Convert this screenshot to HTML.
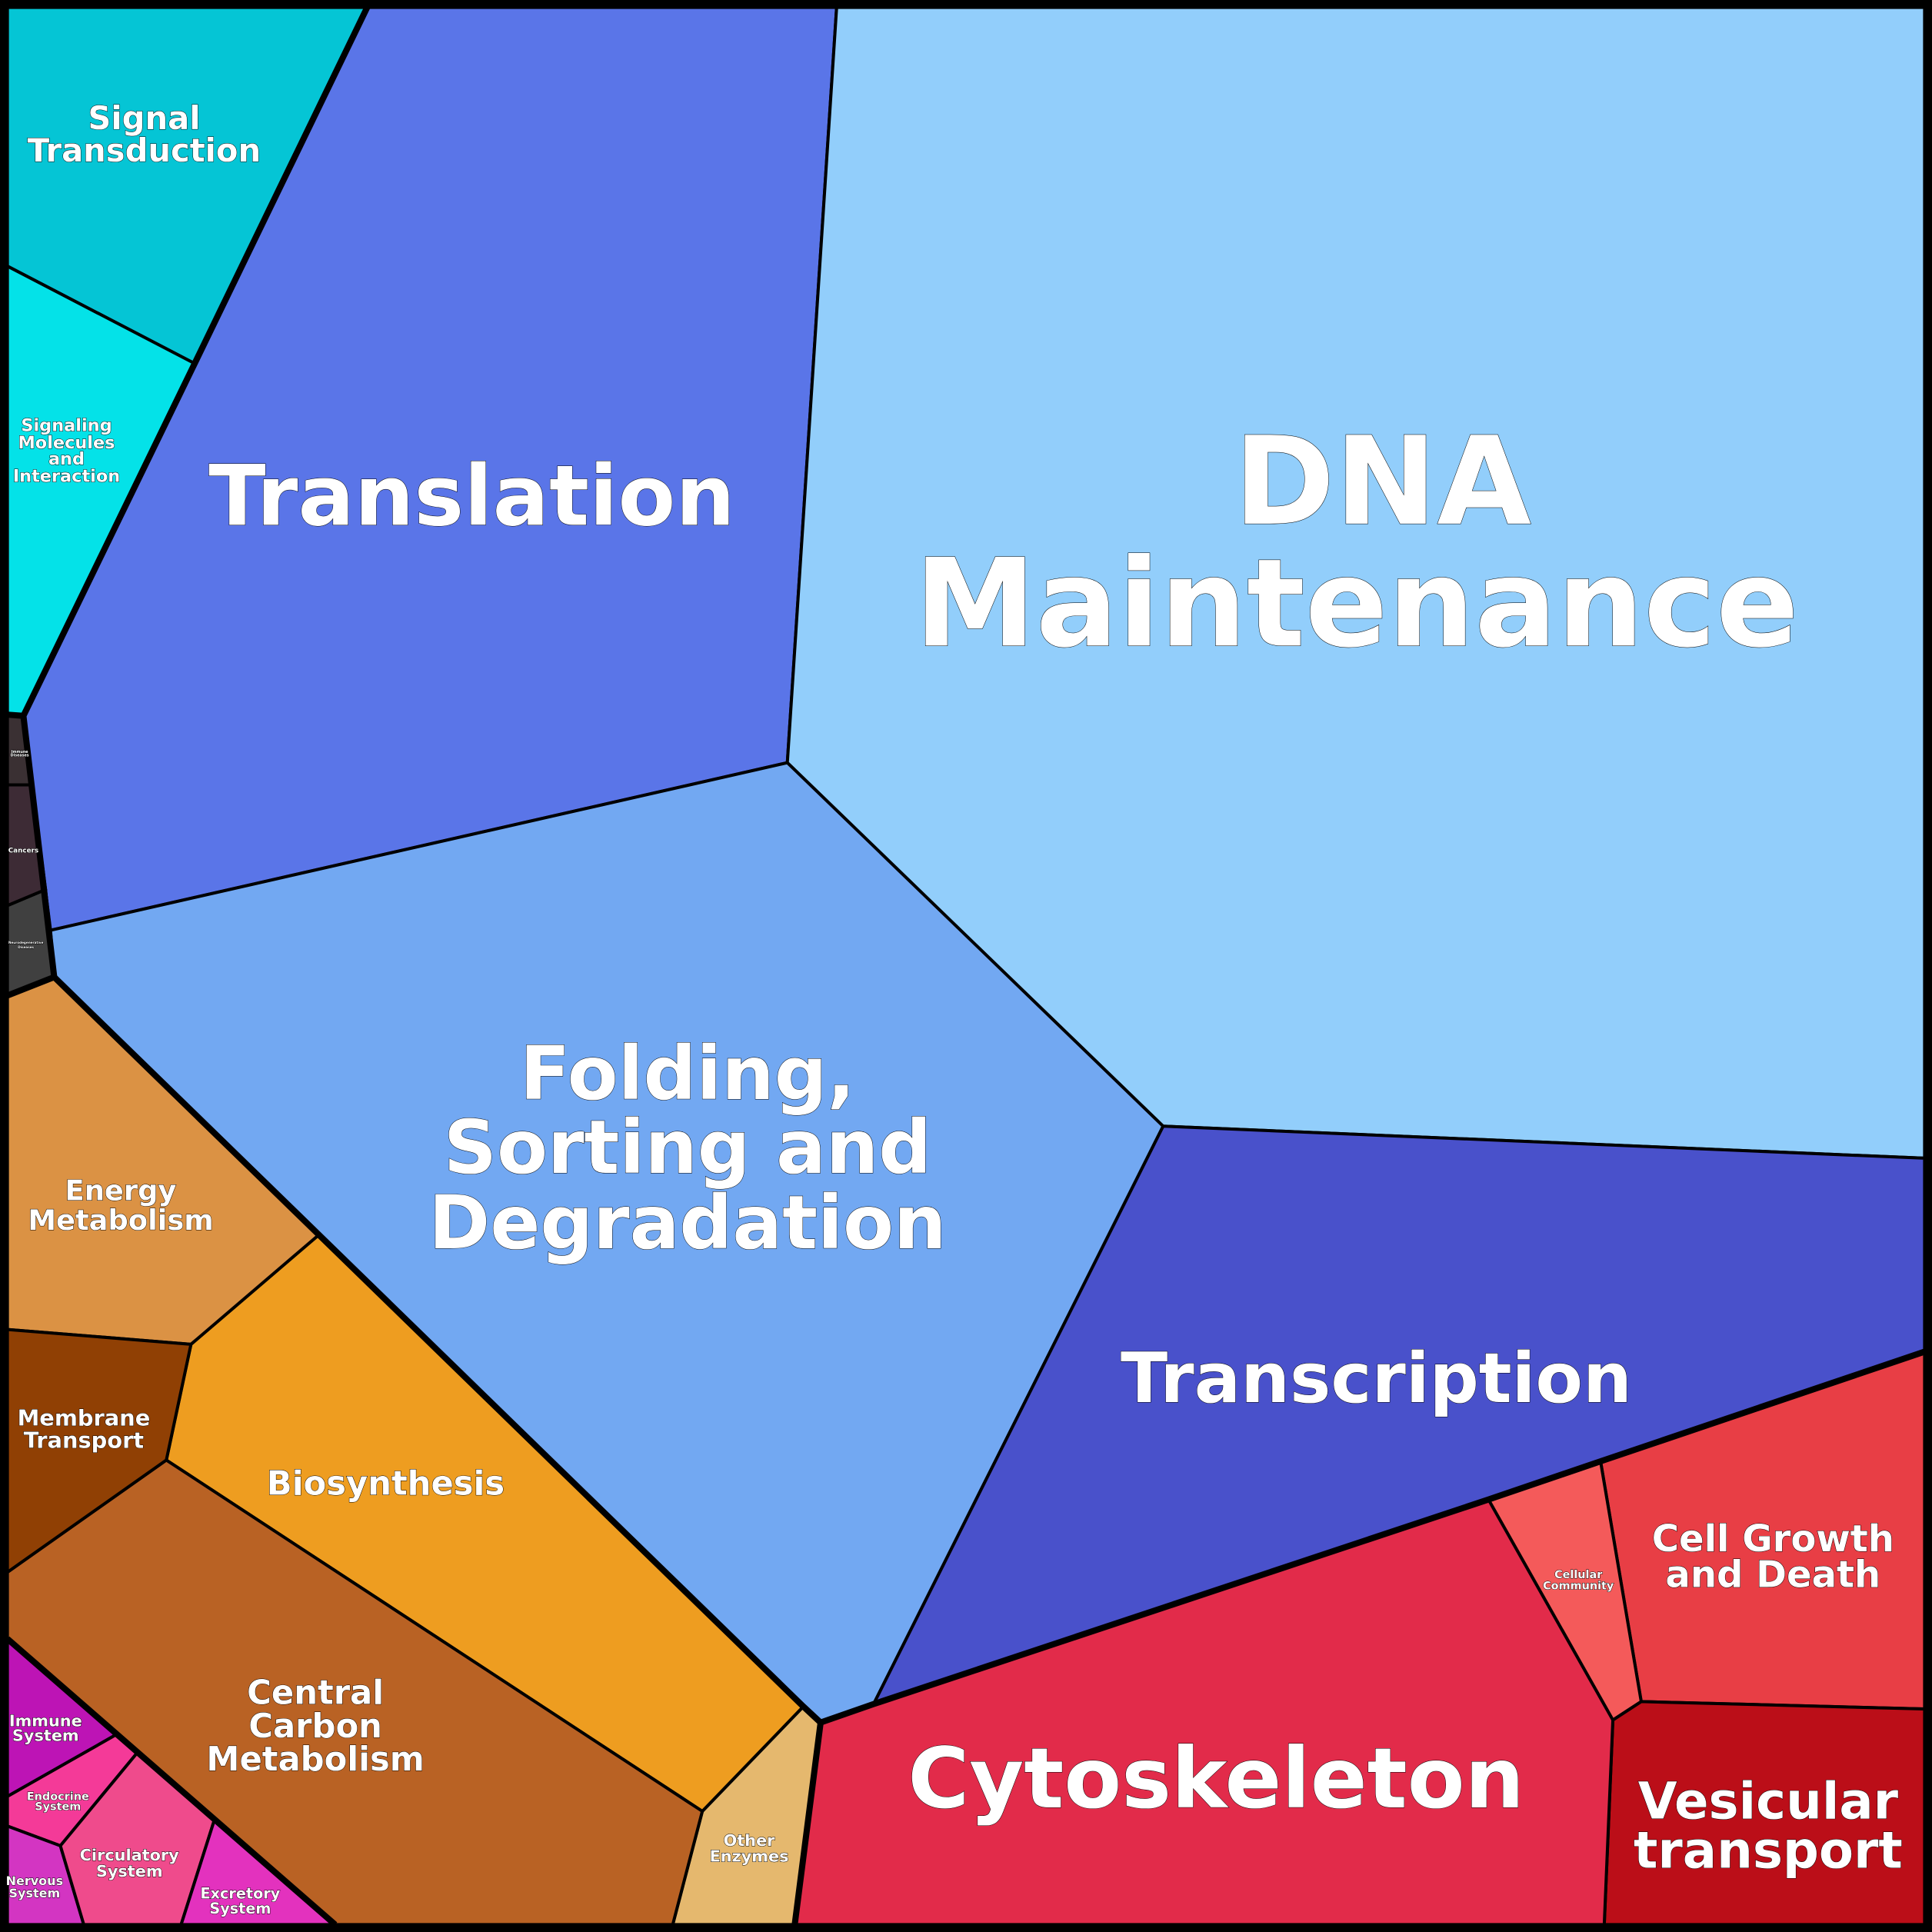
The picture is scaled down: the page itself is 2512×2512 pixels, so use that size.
<!DOCTYPE html>
<html><head><meta charset="utf-8"><style>
html,body{margin:0;padding:0;background:#000}
svg{display:block}
text{font-family:"DejaVu Sans","Liberation Sans",sans-serif;font-weight:bold;fill:#fff;text-anchor:middle;stroke:#000;stroke-width:0.6;paint-order:stroke}
</style></head><body>
<svg width="2512" height="2512" viewBox="0 0 1568 1568" xmlns="http://www.w3.org/2000/svg">
<rect x="0" y="0" width="1568" height="1568" fill="#000"/>
<g stroke="#000" stroke-width="2.5" stroke-linejoin="round">
<polygon fill="#05c5d5" points="6,6 298,6 158,295 6,216"/>
<polygon fill="#04e2e8" points="6,216 158,295 19,581 6,580"/>
<polygon fill="#5a75e8" points="298,6 679,6 639,619 41,755 19,581"/>
<polygon fill="#92cefb" points="679,6 1562,6 1562,940 944,914 639,619"/>
<polygon fill="#72a8f2" points="639,619 944,914 709,1383 666,1398 652,1385 44,793 41,755"/>
<polygon fill="#4951cb" points="944,914 1562,940 1562,1097 1299,1186 1208,1217 709,1383"/>
<polygon fill="#e83e45" points="1299,1186 1562,1097 1562,1387 1332,1381"/>
<polygon fill="#f45a5a" points="1208,1217 1299,1186 1332,1381 1309,1396"/>
<polygon fill="#bb0e18" points="1309,1396 1332,1381 1562,1387 1562,1562 1302,1562"/>
<polygon fill="#e22b4a" points="666,1398 1208,1217 1309,1396 1302,1562 645,1562"/>
<polygon fill="#e5b86e" points="652,1385 666,1398 645,1562 546,1562 570,1470"/>
<polygon fill="#ee9d20" points="259,1002 652,1385 570,1470 135,1185 155,1091"/>
<polygon fill="#b96224" points="6,1276 135,1185 570,1470 546,1562 272,1562 6,1330"/>
<polygon fill="#db9244" points="6,808 44,793 259,1002 155,1091 6,1079"/>
<polygon fill="#904004" points="6,1079 155,1091 135,1185 6,1276"/>
<polygon fill="#3a3033" points="6,580 19,581 26,637 6,637"/>
<polygon fill="#3d2b35" points="6,637 26,637 37,722 6,735"/>
<polygon fill="#404040" points="6,735 37,722 44,793 6,808"/>
<polygon fill="#bd14b5" points="6,1330 94,1408 6,1458"/>
<polygon fill="#f43a98" points="6,1458 94,1408 111,1423 49,1498 6,1482"/>
<polygon fill="#d335c2" points="6,1482 49,1498 68,1562 6,1562"/>
<polygon fill="#ef4b8c" points="49,1498 111,1423 174,1477 147,1562 68,1562"/>
<polygon fill="#e332be" points="174,1477 272,1562 147,1562"/>
</g>
<g stroke="#000" stroke-width="5" fill="none" stroke-linejoin="round">
<polyline points="298,6 158,295 19,581 6,580"/>
<polyline points="19,581 44,793 6,808"/>
<polyline points="44,793 652,1385 666,1398 645,1562"/>
<polyline points="666,1398 709,1383 1208,1217 1299,1186 1562,1097"/>
<polyline points="6,1330 272,1562"/>
<rect x="3" y="3" width="1562" height="1562"/>
</g>
<text font-size="26" x="117" y="105">Signal</text>
<text font-size="26" x="117" y="131">Transduction</text>
<g font-size="14"><text x="54" y="350">Signaling</text><text x="54" y="364">Molecules</text><text x="54" y="377">and</text><text x="54" y="391">Interaction</text></g>
<text font-size="68" x="383" y="426" stroke-width="1">Translation</text>
<text font-size="99" x="1122" y="425" stroke-width="1.2">DNA</text>
<text font-size="99" x="1101" y="524" stroke-width="1.2">Maintenance</text>
<g font-size="60" stroke-width="1"><text x="558" y="892">Folding,</text><text x="558" y="952">Sorting and</text><text x="558" y="1013">Degradation</text></g>
<text font-size="56" x="1117" y="1138" stroke-width="1">Transcription</text>
<text font-size="30" x="1439" y="1259">Cell Growth</text>
<text font-size="30" x="1439" y="1288">and Death</text>
<text font-size="9" x="1281" y="1281" stroke-width="0.3">Cellular</text>
<text font-size="9" x="1281" y="1290" stroke-width="0.3">Community</text>
<text font-size="41" x="1435" y="1476">Vesicular</text>
<text font-size="41" x="1435" y="1516">transport</text>
<text font-size="68" x="987" y="1467" stroke-width="1">Cytoskeleton</text>
<text font-size="13" x="608" y="1498">Other</text>
<text font-size="13" x="608" y="1511">Enzymes</text>
<text font-size="23" x="98" y="974">Energy</text>
<text font-size="23" x="98" y="998">Metabolism</text>
<text font-size="18" x="68" y="1157">Membrane</text>
<text font-size="18" x="68" y="1175">Transport</text>
<text font-size="27" x="313" y="1213">Biosynthesis</text>
<g font-size="27"><text x="256" y="1383">Central</text><text x="256" y="1410">Carbon</text><text x="256" y="1437">Metabolism</text></g>
<text font-size="13" x="37" y="1401">Immune</text><text font-size="13" x="37" y="1413">System</text>
<text font-size="9" x="47" y="1461" stroke-width="0.3">Endocrine</text><text font-size="9" x="47" y="1469" stroke-width="0.3">System</text>
<text font-size="10" x="28" y="1530" stroke-width="0.3">Nervous</text><text font-size="10" x="28" y="1540" stroke-width="0.3">System</text>
<text font-size="13" x="105" y="1510">Circulatory</text><text font-size="13" x="105" y="1523">System</text>
<text font-size="12" x="195" y="1541">Excretory</text><text font-size="12" x="195" y="1553">System</text>
<text font-size="3" x="16" y="611" stroke-width="0">Immune</text><text font-size="3" x="16" y="614" stroke-width="0">Diseases</text>
<text font-size="5.5" x="19" y="692" stroke-width="0">Cancers</text>
<text font-size="2.6" x="21" y="766" stroke-width="0">Neurodegenerative</text><text font-size="2.6" x="21" y="769.5" stroke-width="0">Diseases</text>
</svg>
</body></html>
